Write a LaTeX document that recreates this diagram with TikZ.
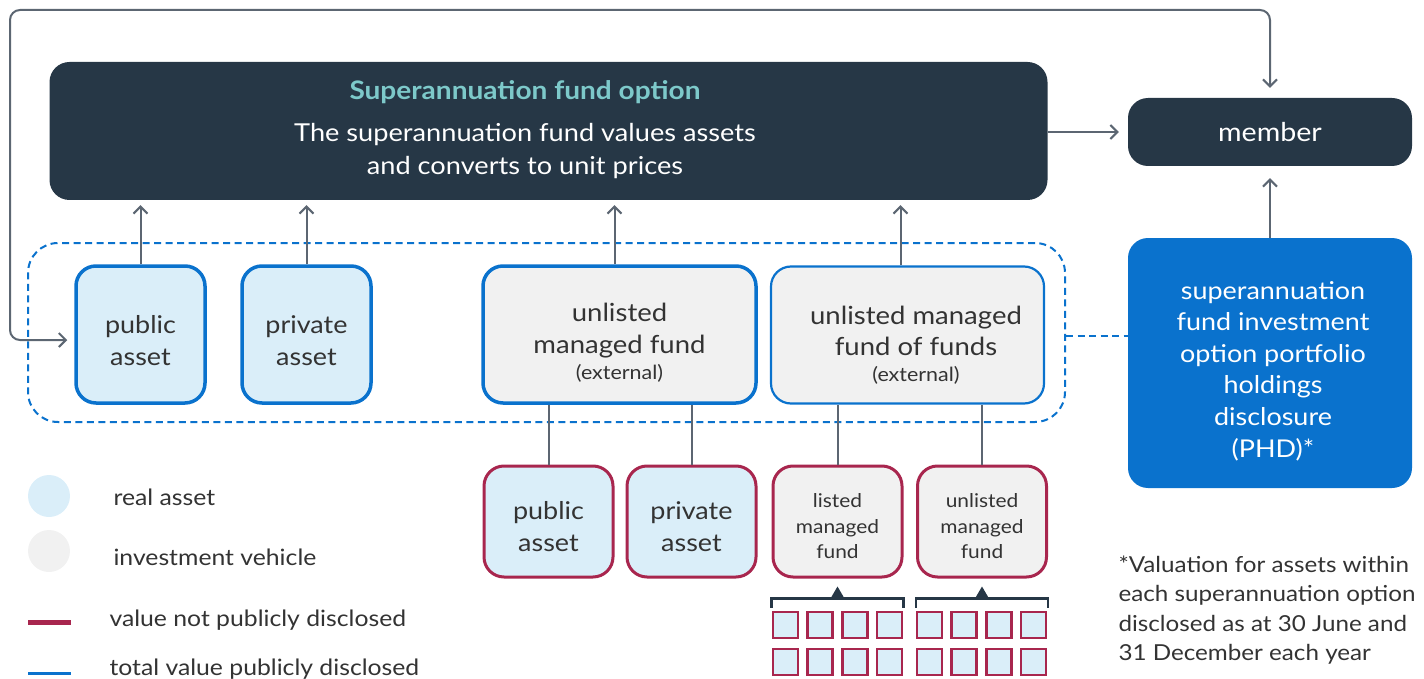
\documentclass[tikz,border=0pt]{standalone}
\usepackage{fontspec}
\setmainfont{Lato}[FakeStretch=1.1]
\usetikzlibrary{arrows.meta}

\definecolor{navy}{HTML}{263746}
\definecolor{titleteal}{HTML}{7DC9CA}
\definecolor{phdblue}{HTML}{0A72CD}
\definecolor{realfill}{HTML}{DAEEF9}
\definecolor{vehfill}{HTML}{F1F1F1}
\definecolor{hidered}{HTML}{A8264E}
\definecolor{linegray}{HTML}{5C6672}
\definecolor{ink}{HTML}{333333}

\begin{document}
\begin{tikzpicture}[x=1pt, y=-1pt,
	conn/.style={draw=linegray, line width=2pt, -{Straight Barb[length=7pt,width=14pt]}},
	link/.style={draw=linegray, line width=2pt},
	box/.style={rounded corners=20pt, inner sep=0pt},
	boxtxt/.style={align=center, text=ink, font=\fontsize{24.5}{32}\selectfont},
	darkbox/.style={box, fill=navy, text=white},
	real/.style={box, fill=realfill, minimum width=129pt, minimum height=137pt},
	vehicle/.style={box, fill=vehfill, minimum width=273pt, minimum height=137pt},
	shown/.style={draw=phdblue, line width=3.5pt},
	hidden/.style={draw=hidered, line width=3pt, minimum height=111pt},
	small/.style={font=\fontsize{19}{25.5}\selectfont},
	dashes/.style={draw=phdblue, line width=2pt, dash pattern=on 7pt off 4.5pt},
	legend/.style={anchor=west, text=ink, font=\fontsize{22.5}{28}\selectfont}]
	\useasboundingbox (0,0) rectangle (1424,679);
	
	%%%%% top row %%%%%
	\node[darkbox, minimum width=998pt, minimum height=138pt] (fund) at (548.5,131) {};
	\node[text=titleteal, font=\fontsize{25.5}{32}\selectfont\bfseries] (fundtitle) at (525,92) {Superannuation fund option};
	\node[align=center, text=white, font=\fontsize{24.7}{33}\selectfont] (fundtxt) at (525,151) {The superannuation fund values assets\\and converts to unit prices};
	
	\node[darkbox, minimum width=284pt, minimum height=68pt, font=\fontsize{26}{32}\selectfont] (member) at (1270,132) {member};
	\node[box, fill=phdblue, minimum width=284pt, minimum height=250pt] (phd) at (1270,363) {};
	\node[align=center, text=white, font=\fontsize{24.5}{31.6}\selectfont] (phdtxt) at (1273,371)
		{superannuation\\fund investment\\option portfolio\\holdings\\disclosure\\(PHD)*};
	
	%%%%% what the option holds %%%%%
	\node[box, dashes, rounded corners=30pt, minimum width=1037pt, minimum height=179pt] (grp) at (546.5,332.5) {};
	
	\node[real, shown] (pub) at (140.5,334.5) {};
	\node[real, shown] (priv) at (306.5,334.5) {};
	\node[vehicle, shown] (umf) at (619.5,334.5) {};
	\node[vehicle, draw=phdblue, line width=2.2pt] (umfof) at (907.5,335) {};
	\node[boxtxt] (pubtxt) at ([yshift=-6pt]pub.center) {public\\asset};
	\node[boxtxt] (privtxt) at ([yshift=-6pt]priv.center) {private\\asset};
	\node[boxtxt, font=\fontsize{25}{32}\selectfont] (umftxt) at (619.5,331) {unlisted\\managed fund};
	\node[text=ink, font=\fontsize{19.5}{22}\selectfont] (umfext) at (619.5,373) {(external)};
	\node[boxtxt, font=\fontsize{25}{31}\selectfont] (umfoftxt) at (916,331) {unlisted managed\\fund of funds};
	\node[text=ink, font=\fontsize{19.5}{22}\selectfont] (umfofext) at (916,375) {(external)};
	
	%%%%% underlying holdings %%%%%
	\node[real, hidden] (bpub) at (548.5,521.5) {};
	\node[real, hidden] (bpriv) at (691.5,521.5) {};
	\node[real, hidden, fill=vehfill] (lmf) at (837.5,521.5) {};
	\node[real, hidden, fill=vehfill] (ulmf) at (982,521.5) {};
	\node[boxtxt] (bpubtxt) at ([yshift=-5pt]bpub.center) {public\\asset};
	\node[boxtxt] (bprivtxt) at ([yshift=-5pt]bpriv.center) {private\\asset};
	\node[boxtxt, small] (lmftxt) at ([yshift=-5pt]lmf.center) {listed\\managed\\fund};
	\node[boxtxt, small] (ulmftxt) at ([yshift=-5pt]ulmf.center) {unlisted\\managed\\fund};
	
	\foreach \b in {lmf,ulmf} {
		\draw[navy, line width=2.5pt] ([yshift=-29pt]\b.south west) -- ([yshift=-20pt]\b.south west)
			-- ([yshift=-20pt]\b.south east) -- ([yshift=-29pt]\b.south east);
		\fill[navy] ([xshift=-7pt,yshift=-20pt]\b.south) -- ([yshift=-8pt]\b.south)
			-- ([xshift=7pt,yshift=-20pt]\b.south) -- cycle;
	}
	\foreach \gx in {773,917}
		\foreach \i in {0,...,3}
			\foreach \ry in {612,649}
				\draw[hidered, fill=realfill, line width=2.5pt] (\gx+34.7*\i,\ry) rectangle ++(25,26);
	
	%%%%% connectors %%%%%
	\draw[conn, shorten >=5pt] (pub.north) -- (pub.north |- fund.south);
	\draw[conn, shorten >=5pt] (priv.north) -- (priv.north |- fund.south);
	\draw[conn, shorten >=5pt] ([xshift=-5pt]umf.north) -- ([xshift=-5pt]umf.north |- fund.south);
	\draw[conn, shorten >=5pt] ([xshift=-7pt]umfof.north) -- ([xshift=-7pt]umfof.north |- fund.south);
	\foreach \a/\b in {umf/bpub,umf/bpriv,umfof/lmf,umfof/ulmf}
		\draw[link] (\b.north) -- (\b.north |- \a.south);
	
	\draw[conn, shorten >=9pt] (fund.east |- member.west) -- (member.west);
	\draw[conn, shorten >=12pt] (phd.north) -- (member.south);
	\draw[dashes] ([yshift=-3pt]grp.east) -- ([yshift=-3pt]grp.east -| phd.west);
	
	\coordinate (loopA) at (10,340);
	\coordinate (loopB) at (10,10);
	\draw[conn, {Straight Barb[length=7pt,width=14pt]}-{Straight Barb[length=7pt,width=14pt]},
		rounded corners=10pt, shorten <=7pt, shorten >=10pt]
		(loopA -| pub.west) -- (loopA) -- (loopB) -- (loopB -| member.north) -- (member.north);
	
	%%%%% legend %%%%%
	\fill[realfill] (49,496) circle (21);
	\fill[vehfill] (49,551) circle (21);
	\draw[hidered, line width=5pt] (28,622) -- (71,622);
	\draw[phdblue, line width=3pt] (28,673) -- (71,673);
	\node[legend] (lgreal) at (110,497) {real asset};
	\node[legend] (lgveh) at (110,557) {investment vehicle};
	\node[legend] (lghid) at (106,620) {value not publicly disclosed};
	\node[legend] (lgshown) at (106,669) {total value publicly disclosed};
	
	\node[anchor=north west, align=left, text=ink, font=\fontsize{22}{29.5}\selectfont] (note) at (1115,552)
		{*Valuation for assets within\\each superannuation option\\disclosed as at 30 June and\\31 December each year};
\end{tikzpicture}
\end{document}
